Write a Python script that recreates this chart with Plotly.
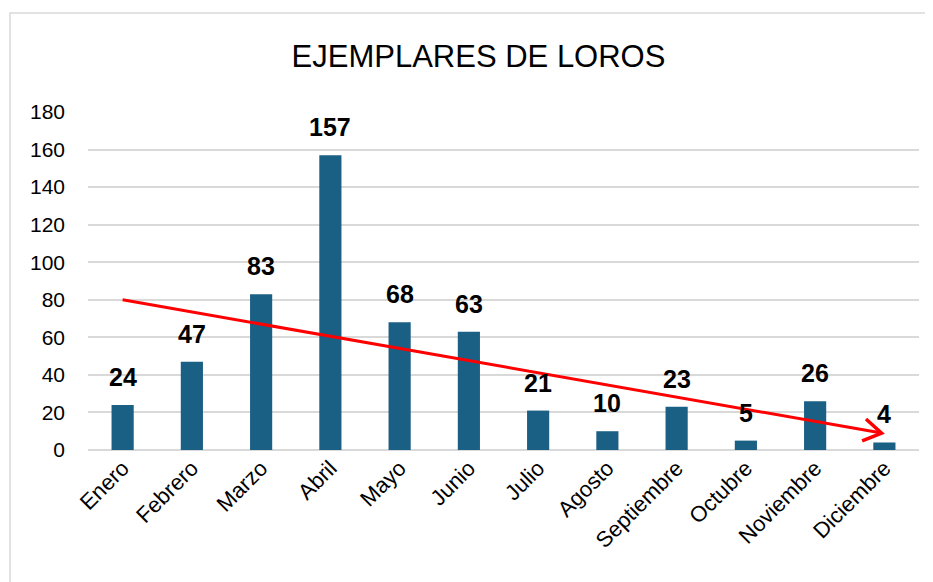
import math
import plotly.graph_objects as go

months = ["Enero", "Febrero", "Marzo", "Abril", "Mayo", "Junio", "Julio",
          "Agosto", "Septiembre", "Octubre", "Noviembre", "Diciembre"]
values = [24, 47, 83, 157, 68, 63, 21, 10, 23, 5, 26, 4]
trend_x = [0, 10.96]
trend_y = [80, 9]
y_ticks = [0, 20, 40, 60, 80, 100, 120, 140, 160, 180]

BAR = "#1A6085"
RED = "#FF0000"
# the page body has an 8px margin, so the figure is 8px smaller than the window
W, H = 925, 574
ML, MR, MT, MB = 80, 14, 104, 132
pw, ph = W - ML - MR, H - MT - MB
XR = [-0.5, 11.5]
YR = [0, 180]
sx = pw / (XR[1] - XR[0])   # px per category unit
sy = ph / (YR[1] - YR[0])   # px per y unit

# open arrowhead at the end of the trend line, computed in pixel space
vx = (trend_x[1] - trend_x[0]) * sx
vy = (trend_y[1] - trend_y[0]) * sy
n = math.hypot(vx, vy)
ux, uy = -vx / n, -vy / n
arm, ang = 21, math.radians(32)
head_x, head_y = [], []
for s in (ang, None, -ang):
    if s is None:
        head_x.append(trend_x[1]); head_y.append(trend_y[1]); continue
    rx = ux * math.cos(s) - uy * math.sin(s)
    ry = ux * math.sin(s) + uy * math.cos(s)
    head_x.append(trend_x[1] + rx * arm / sx)
    head_y.append(trend_y[1] + ry * arm / sy)

fig = go.Figure()
fig.add_trace(go.Bar(x=list(range(len(months))), y=values, marker_color=BAR,
                     marker_line_width=0, width=0.32, hoverinfo="skip"))
fig.add_trace(go.Scatter(x=trend_x, y=trend_y, mode="lines",
                         line=dict(color=RED, width=3), hoverinfo="skip"))
fig.add_trace(go.Scatter(x=head_x, y=head_y, mode="lines",
                         line=dict(color=RED, width=3.5), hoverinfo="skip"))

for i, v in enumerate(values):
    fig.add_annotation(x=i, y=v, text=f"<b>{v}</b>", showarrow=False,
                       yanchor="bottom", yshift=12,
                       font=dict(family="Liberation Sans, Arial", size=25, color="#000"))

fig.add_shape(type="rect", xref="paper", yref="paper",
              x0=(2 - ML) / pw, x1=1 + (MR + 120) / pw,
              y0=-(MB + 60) / ph, y1=1 + (MT - 5) / ph,
              line=dict(color="#D9D9D9", width=1.5), layer="below")

fig.update_layout(
    width=W, height=H,
    margin=dict(l=ML, r=MR, t=MT, b=MB, autoexpand=False),
    paper_bgcolor="white", plot_bgcolor="white",
    showlegend=False,
    bargap=0.68,
    title=dict(text="EJEMPLARES DE LOROS", x=470.5 / W, xanchor="center",
               y=1 - 48 / H, yanchor="middle",
               font=dict(family="Liberation Sans, Arial", size=31, color="#000")),
    xaxis=dict(tickmode="array", tickvals=list(range(len(months))), ticktext=months,
               tickangle=-45, range=XR, showgrid=False, zeroline=False,
               showline=False, ticks="", automargin=False,
               tickfont=dict(family="Liberation Sans, Arial", size=22, color="#000")),
    yaxis=dict(range=YR, tickvals=y_ticks, showgrid=True, gridcolor="#D9D9D9",
               gridwidth=1.5, zeroline=True, zerolinecolor="#D9D9D9", zerolinewidth=1.5,
               ticks="", ticklabelstandoff=22, automargin=False,
               tickfont=dict(family="Liberation Sans, Arial", size=21, color="#000")),
)

fig.write_html("out.html")
